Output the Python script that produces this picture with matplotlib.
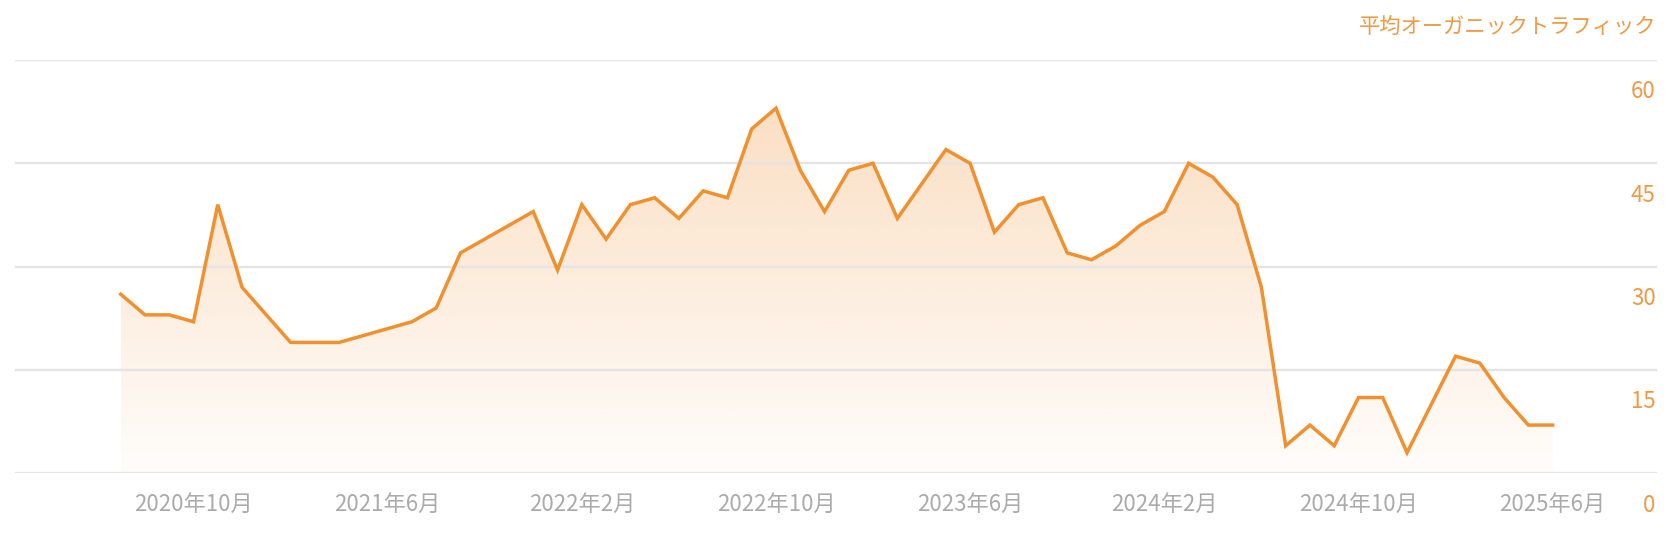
import numpy as np
import pandas as pd
import matplotlib.pyplot as plt
from matplotlib.colors import to_rgb

plt.rcParams['font.family'] = ['Noto Sans CJK JP', 'DejaVu Sans']

# Monthly average organic traffic, 2020-07 .. 2025-06
months = pd.period_range("2020-07", "2025-06", freq="M")
traffic = [26, 23, 23, 22, 39, 27, 23, 19, 19, 19,
           20, 21, 22, 24, 32, 34, 36, 38, 29.5, 39,
           34, 39, 40, 37, 41, 40, 50, 53, 44, 38,
           44, 45, 37, 42, 47, 45, 35, 39, 40, 32,
           31, 33, 36, 38, 45, 43, 39, 27, 4, 7,
           4, 11, 11, 3, 10, 17, 16, 11, 7, 7]

tick_months = ["2020-10", "2021-06", "2022-02", "2022-10",
               "2023-06", "2024-02", "2024-10", "2025-06"]
tick_labels = ["2020年10月", "2021年6月", "2022年2月", "2022年10月",
               "2023年6月", "2024年2月", "2024年10月", "2025年6月"]
y_ticks = [0, 15, 30, 45, 60]
title = "平均オーガニックトラフィック"

line_color = "#F0902F"
text_orange = "#F09A45"
grid_color = "#E4E4E4"

x = np.arange(len(months))
y = np.array(traffic, dtype=float)

fig = plt.figure(figsize=(16.8, 5.38), dpi=100)
ax = fig.add_axes([15 / 1680, 64.7 / 538, 1642 / 1680, 413.3 / 538])

ax.set_xlim(-4.355, 63.3)
ax.set_ylim(0, 60)

# gradient fill under the line
top = y.max()
grad = np.linspace(0, 1, 256).reshape(-1, 1)
rgba = np.zeros((256, 1, 4))
rgba[..., :3] = to_rgb(line_color)
rgba[..., 3] = 0.02 + 0.27 * grad[:, 0:1]
img = ax.imshow(rgba, extent=[x[0], x[-1], 0, top], origin="lower",
                aspect="auto", zorder=1, interpolation="bilinear")
poly = ax.fill_between(x, y, 0, facecolor="none", edgecolor="none")
clip = poly.get_paths()[0]
img.set_clip_path(clip, transform=ax.transData)

# grid lines
for v in y_ticks:
    ax.axhline(v, color=grid_color, lw=1.7, zorder=2)

ax.plot(x, y, color=line_color, lw=2.5, zorder=3, solid_joinstyle="miter")

# y labels on the right, under each grid line
for v in y_ticks:
    ax.annotate(str(v), xy=(1, v), xycoords=("axes fraction", "data"),
                xytext=(-1, -23), textcoords="offset points",
                ha="right", va="center", fontsize=16, color=text_orange)

ax.set_yticks([])
tick_pos = [months.get_loc(pd.Period(m, freq="M")) for m in tick_months]
ax.set_xticks(tick_pos)
ax.set_xticklabels(tick_labels, fontsize=16, color="#ABABAB")
ax.tick_params(axis="x", length=0, pad=14)

for s in ax.spines.values():
    s.set_visible(False)

fig.text(1656 / 1680, 1 - 27 / 538, title, ha="right", va="center",
         fontsize=15.3, color=text_orange)

fig.savefig("out.png", dpi=100)
